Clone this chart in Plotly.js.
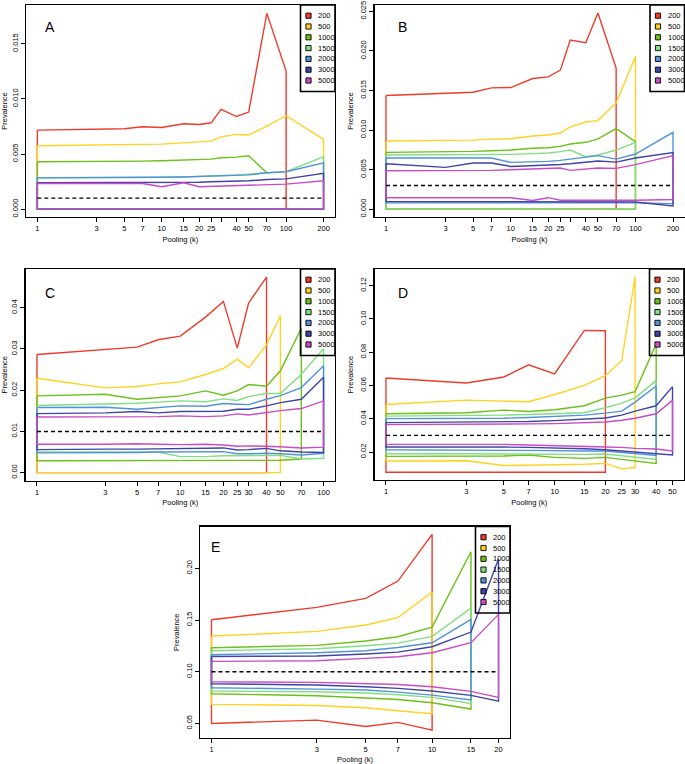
<!DOCTYPE html>
<html>
<head>
<meta charset="utf-8">
<script src="https://cdn.plot.ly/plotly-3.0.1.min.js"></script>
<style>html,body{margin:0;padding:0;background:#fff;}#chart{width:685px;height:764px;}</style>
</head>
<body>
<div id="chart"></div>
<script>
// ---------------- DATA ----------------
const seriesNames = ['200', '500', '1000', '1500', '2000', '3000', '5000'];
const seriesColors = ['#EE3B2B', '#FFD21F', '#6CC01A', '#82DE82', '#4F94DA', '#3F44A8', '#C94BC6'];

// Panel A
const kA = [1, 3, 5, 7, 10, 15, 20, 25, 30, 40, 50, 70, 100, 200];
const kA_labels = ['1', '3', '5', '7', '10', '15', '20', '25', '', '40', '50', '70', '100', '200'];
const A200_up = [0.00717, 0.00726, 0.00729, 0.00747, 0.0074, 0.00774, 0.00768, 0.00783, 0.00905, 0.0084, 0.0088, 0.01775, 0.01252, null];
const A200_lo = [0, 0, 0, 0, 0, 0, 0, 0, 0, 0, 0, 0, 0, null];
const A500_up = [0.00575, 0.00578, 0.00581, 0.00587, 0.0059, 0.00602, 0.00605, 0.00617, 0.00656, 0.00678, 0.00672, 0.00753, 0.00847, 0.00632];
const A500_lo = [0, 0, 0, 0, 0, 0, 0, 0, 0, 0, 0, 0, 0, 0];
const A1000_up = [0.0043, 0.0043, 0.00433, 0.00436, 0.00439, 0.00448, 0.00448, 0.00454, 0.00466, 0.00472, 0.00484, 0.0033, null, null];
const A1000_lo = [0, 0, 0, 0, 0, 0, 0, 0, 0, 0, 0, null, null, null];
const A1500_up = [0.00285, 0.00285, 0.00286, 0.00287, 0.0029, 0.00293, 0.00296, 0.003, 0.00305, 0.0031, 0.00318, 0.0033, 0.0034, 0.00475];
const A1500_lo = [0, 0, 0, 0, 0, 0, 0, 0, 0, 0, 0, 0, 0, 0];
const A2000_up = [0.00284, 0.00284, 0.00285, 0.00286, 0.00289, 0.00292, 0.00295, 0.00299, 0.00302, 0.00306, 0.00311, 0.0033, 0.00339, 0.0042];
const A2000_lo = [0, 0, 0, 0, 0, 0, 0, 0, 0, 0, 0, 0, 0, 0];
const A3000_up = [0.00239, 0.00239, 0.00239, 0.0024, 0.0024, 0.00242, 0.00244, 0.00248, 0.0025, 0.00253, 0.00257, 0.00269, 0.00275, 0.00324];
const A3000_lo = [0, 0, 0, 0, 0, 0, 0, 0, 0, 0, 0, 0, 0, 0];
const A5000_up = [0.00233, 0.00233, 0.00233, 0.00233, 0.00203, 0.00239, 0.00203, 0.00206, 0.00208, 0.0021, 0.00212, 0.00221, 0.00227, 0.00257];
const A5000_lo = [0, 0, 0, 0, 0, 0, 0, 0, 0, 0, 0, 0, 0, 0];
const A_ref = 0.001;

// Panel B
const kB = [1, 3, 5, 7, 10, 15, 20, 25, 30, 40, 50, 70, 100, 200];
const kB_labels = ['1', '3', '5', '7', '10', '15', '20', '25', '', '40', '50', '70', '100', '200'];
const B200_up = [0.01436, 0.0147, 0.01478, 0.01533, 0.01537, 0.01651, 0.01672, 0.01757, 0.02137, 0.02103, 0.02479, 0.01782, null, null];
const B200_lo = [0, 0, 0, 0, 0, 0, 0, 0, 0, 0, 0, 0, null, null];
const B500_up = [0.00861, 0.00866, 0.00872, 0.00885, 0.0089, 0.00925, 0.00937, 0.00963, 0.01039, 0.01102, 0.01119, 0.01343, 0.0193, null];
const B500_lo = [0, 0, 0, 0, 0, 0, 0, 0, 0, 0, 0, 0, 0, null];
const B1000_up = [0.00718, 0.00722, 0.0073, 0.00738, 0.00747, 0.00769, 0.00777, 0.00794, 0.00823, 0.00845, 0.00887, 0.01018, 0.00853, null];
const B1000_lo = [0, 0, 0, 0, 0, 0, 0, 0, 0, 0, 0, 0, 0, null];
const B1500_up = [0.00684, 0.00684, 0.00684, 0.00688, 0.00693, 0.00702, 0.0071, 0.00727, 0.00747, 0.00663, 0.00684, 0.00747, 0.00845, null];
const B1500_lo = [0, 0, 0, 0, 0, 0, 0, 0, 0, 0, 0, 0, 0, null];
const B2000_up = [0.00646, 0.00646, 0.00646, 0.00646, 0.00591, 0.00596, 0.00604, 0.00617, 0.00634, 0.00655, 0.00676, 0.00633, 0.00697, 0.00971];
const B2000_lo = [0.0008, 0.0008, 0.0008, 0.0008, 0.0008, 0.0008, 0.0008, 0.0008, 0.0008, 0.0008, 0.0008, 0.0008, 0.0008, 0.0007];
const B3000_up = [0.00574, 0.00528, 0.00583, 0.00583, 0.0054, 0.00548, 0.00557, 0.00565, 0.00574, 0.00591, 0.00608, 0.00595, 0.00646, 0.00714];
const B3000_lo = [0.00097, 0.00097, 0.00097, 0.00097, 0.00097, 0.00097, 0.00097, 0.00097, 0.0009, 0.0009, 0.0009, 0.0009, 0.0009, 0.0004];
const B5000_up = [0.00486, 0.00486, 0.00486, 0.0049, 0.00498, 0.00504, 0.00511, 0.0052, 0.0049, 0.00507, 0.0052, 0.00515, 0.00562, 0.00676];
const B5000_lo = [0.00145, 0.00145, 0.00145, 0.00145, 0.00145, 0.0011, 0.00145, 0.00112, 0.00112, 0.00112, 0.00112, 0.00112, 0.00112, 0.00122];
const B_ref = 0.003;

// Panel C
const kC = [1, 3, 5, 7, 10, 15, 20, 25, 30, 40, 50, 70, 100];
const kC_labels = ['1', '3', '5', '7', '10', '15', '20', '25', '30', '40', '50', '70', '100'];
const C200_up = [0.02866, 0.0298, 0.03045, 0.03223, 0.03312, 0.03773, 0.04154, 0.0302, 0.04113, 0.04745, null, null, null];
const C200_lo = [0, 0, 0, 0, 0, 0, 0, 0, 0, 0, null, null, null];
const C500_up = [0.02291, 0.02057, 0.02089, 0.02154, 0.02202, 0.0238, 0.02526, 0.02753, 0.02543, 0.03101, 0.03806, null, null];
const C500_lo = [0, 0, 0, 0, 0, 0, 0, 0, 0, 0, 0, null, null];
const C1000_up = [0.01862, 0.01903, 0.01781, 0.0182, 0.01862, 0.01984, 0.01879, 0.01984, 0.02138, 0.02097, 0.0247, 0.03506, null];
const C1000_lo = [0.0029, 0.0029, 0.0029, 0.0029, 0.0029, 0.003, 0.003, 0.003, 0.003, 0.003, 0.003, 0.0033, null];
const C1500_up = [0.01628, 0.01655, 0.01684, 0.0171, 0.01741, 0.0172, 0.01789, 0.0175, 0.01846, 0.01919, 0.01919, 0.02389, 0.03004];
const C1500_lo = [0.00505, 0.00503, 0.005, 0.005, 0.0039, 0.0039, 0.0041, 0.0041, 0.0041, 0.0042, 0.0042, 0.0033, 0.0035];
const C2000_up = [0.01579, 0.01585, 0.01538, 0.0157, 0.0162, 0.0161, 0.01676, 0.0166, 0.0165, 0.01781, 0.0187, 0.02065, 0.02591];
const C2000_lo = [0.0048, 0.0049, 0.0049, 0.005, 0.005, 0.0051, 0.0051, 0.0046, 0.0046, 0.0047, 0.0046, 0.0043, 0.0047];
const C3000_up = [0.01433, 0.0145, 0.01482, 0.0145, 0.01482, 0.01482, 0.0149, 0.01538, 0.01538, 0.0162, 0.017, 0.01781, 0.02316];
const C3000_lo = [0.0056, 0.0057, 0.0057, 0.0058, 0.0058, 0.0059, 0.006, 0.0055, 0.0056, 0.0059, 0.0053, 0.005, 0.0049];
const C5000_up = [0.01352, 0.01355, 0.0136, 0.0136, 0.01377, 0.0136, 0.01377, 0.01425, 0.014, 0.01466, 0.01506, 0.01555, 0.01741];
const C5000_lo = [0.0069, 0.0069, 0.007, 0.0069, 0.0068, 0.0069, 0.0067, 0.0064, 0.0065, 0.0064, 0.0063, 0.006, 0.0062];
const C_ref = 0.01;

// Panel D
const kD = [1, 3, 5, 7, 10, 15, 20, 25, 30, 40, 50];
const kD_labels = ['1', '3', '5', '7', '10', '15', '20', '25', '30', '40', '50'];
const D200_up = [0.0645, 0.0615, 0.0651, 0.0724, 0.0669, 0.0931, 0.0929, null, null, null, null];
const D200_lo = [0.0079, 0.0079, 0.0079, 0.0079, 0.0079, 0.0079, 0.0079, null, null, null, null];
const D500_up = [0.0486, 0.0512, 0.0506, 0.0502, 0.0546, 0.0601, 0.0659, 0.075, 0.1253, null, null];
const D500_lo = [0.0146, 0.0148, 0.0119, 0.0121, 0.0123, 0.0127, 0.0132, 0.0099, 0.0107, null, null];
const D1000_up = [0.043, 0.0436, 0.0452, 0.0444, 0.0454, 0.0478, 0.0524, 0.0542, 0.0563, 0.0849, null];
const D1000_lo = [0.0174, 0.0174, 0.0176, 0.0182, 0.0168, 0.0162, 0.0168, 0.0156, 0.0144, 0.0132, null];
const D1500_up = [0.0416, 0.0418, 0.0422, 0.0426, 0.0432, 0.0436, 0.0466, 0.0494, 0.0526, 0.0629, null];
const D1500_lo = [0.019, 0.019, 0.019, 0.019, 0.0188, 0.0186, 0.0188, 0.0178, 0.017, 0.0156, null];
const D2000_up = [0.0401, 0.0402, 0.0403, 0.0408, 0.0416, 0.0422, 0.0434, 0.0446, 0.05, 0.0597, null];
const D2000_lo = [0.0214, 0.0212, 0.021, 0.021, 0.021, 0.0206, 0.0206, 0.0198, 0.019, 0.018, null];
const D3000_up = [0.0377, 0.0379, 0.0381, 0.0384, 0.0389, 0.0397, 0.0405, 0.0422, 0.0446, 0.0478, 0.0593];
const D3000_lo = [0.023, 0.023, 0.023, 0.0228, 0.0226, 0.022, 0.0214, 0.021, 0.02, 0.019, 0.0182];
const D5000_up = [0.0365, 0.0365, 0.0367, 0.0369, 0.0371, 0.0375, 0.0381, 0.0391, 0.0403, 0.043, 0.0512];
const D5000_lo = [0.0246, 0.0246, 0.0246, 0.0243, 0.024, 0.0234, 0.023, 0.0228, 0.0222, 0.0218, 0.0206];
const D_ref = 0.03;

// Panel E
const kE = [1, 3, 5, 7, 10, 15, 20];
const kE_labels = ['1', '3', '5', '7', '10', '15', '20'];
const E200_up = [0.1503, 0.1623, 0.171, 0.1877, 0.2329, null, null];
const E200_lo = [0.05, 0.0532, 0.0471, 0.051, 0.0435, null, null];
const E500_up = [0.1345, 0.139, 0.1452, 0.1523, 0.1771, null, null];
const E500_lo = [0.0684, 0.0674, 0.0652, 0.0623, 0.0594, null, null];
const E1000_up = [0.1232, 0.1255, 0.1297, 0.1339, 0.1432, 0.2161, null];
const E1000_lo = [0.0787, 0.0768, 0.0748, 0.0732, 0.07, 0.0639, null];
const E1500_up = [0.1203, 0.1223, 0.1252, 0.1277, 0.1342, 0.1616, null];
const E1500_lo = [0.0813, 0.0806, 0.0794, 0.0777, 0.0752, 0.0694, null];
const E2000_up = [0.1165, 0.1184, 0.1203, 0.1235, 0.128, 0.1506, null];
const E2000_lo = [0.0845, 0.0832, 0.0823, 0.0803, 0.0774, 0.0726, null];
const E3000_up = [0.1148, 0.1152, 0.1171, 0.119, 0.1242, 0.1384, 0.209];
const E3000_lo = [0.0884, 0.0871, 0.0855, 0.0839, 0.0813, 0.0771, 0.0716];
const E5000_up = [0.11, 0.1106, 0.1129, 0.1145, 0.1184, 0.1281, 0.1555];
const E5000_lo = [0.0903, 0.0897, 0.0887, 0.0877, 0.0855, 0.081, 0.0752];
const E_ref = 0.10;

// ---------------- LAYOUT ----------------
const W = 685, H = 764;
const FONT = 'Liberation Sans, Arial, Helvetica, sans-serif';
const panels = [
  {letter: 'A', k: kA, kl: kA_labels, ups: [A200_up, A500_up, A1000_up, A1500_up, A2000_up, A3000_up, A5000_up],
   los: [A200_lo, A500_lo, A1000_lo, A1500_lo, A2000_lo, A3000_lo, A5000_lo], ref: A_ref,
   px: [25.9, 335], py: [5, 217], xr: [-0.092, 2.393], yr: [-0.00071, 0.01851],
   yt: [0, 0.005, 0.01, 0.015], yfmt: '.3f', lab: [50, 27]},
  {letter: 'B', k: kB, kl: kB_labels, ups: [B200_up, B500_up, B1000_up, B1500_up, B2000_up, B3000_up, B5000_up],
   los: [B200_lo, B500_lo, B1000_lo, B1500_lo, B2000_lo, B3000_lo, B5000_lo], ref: B_ref,
   px: [374.5, 684.5], py: [5, 217], xr: [-0.092, 2.393], yr: [-0.00099, 0.0258],
   yt: [0, 0.005, 0.01, 0.015, 0.02, 0.025], yfmt: '.3f', lab: [402, 27]},
  {letter: 'C', k: kC, kl: kC_labels, ups: [C200_up, C500_up, C1000_up, C1500_up, C2000_up, C3000_up, C5000_up],
   los: [C200_lo, C500_lo, C1000_lo, C1500_lo, C2000_lo, C3000_lo, C5000_lo], ref: C_ref,
   px: [25.5, 335], py: [269, 480.5], xr: [-0.08, 2.08], yr: [-0.0019, 0.0494],
   yt: [0, 0.01, 0.02, 0.03, 0.04], yfmt: '.2f', lab: [49.5, 293]},
  {letter: 'D', k: kD, kl: kD_labels, ups: [D200_up, D500_up, D1000_up, D1500_up, D2000_up, D3000_up, D5000_up],
   los: [D200_lo, D500_lo, D1000_lo, D1500_lo, D2000_lo, D3000_lo, D5000_lo], ref: D_ref,
   px: [374.5, 684], py: [269, 480], xr: [-0.068, 1.767], yr: [0.0032, 0.13],
   yt: [0.02, 0.04, 0.06, 0.08, 0.10, 0.12], yfmt: '.2f', lab: [402.5, 293]},
  {letter: 'E', k: kE, kl: kE_labels, ups: [E200_up, E500_up, E1000_up, E1500_up, E2000_up, E3000_up, E5000_up],
   los: [E200_lo, E500_lo, E1000_lo, E1500_lo, E2000_lo, E3000_lo, E5000_lo], ref: E_ref,
   px: [200, 510], py: [526.5, 738], xr: [-0.052, 1.353], yr: [0.0359, 0.2405],
   yt: [0.05, 0.10, 0.15, 0.20], yfmt: '.2f', lab: [215, 546.5]}
];

const fx = v => v / W;
const fy = v => 1 - v / H;

const traces = [];
const layout = {
  width: W, height: H,
  margin: {l: 0, r: 0, t: 0, b: 0},
  paper_bgcolor: '#fff', plot_bgcolor: 'rgba(0,0,0,0)',
  showlegend: false,
  font: {family: FONT, size: 7.5, color: '#000'},
  annotations: [], shapes: []
};

panels.forEach((p, i) => {
  const n = i + 1;
  const xa = n === 1 ? 'x' : 'x' + n;
  const ya = n === 1 ? 'y' : 'y' + n;
  const xk = n === 1 ? 'xaxis' : 'xaxis' + n;
  const yk = n === 1 ? 'yaxis' : 'yaxis' + n;

  // closed loops: upper bound out, lower bound back
  p.ups.forEach((up, s) => {
    const lo = p.los[s];
    const xs = [], ys = [];
    let last = -1;
    for (let j = 0; j < p.k.length; j++) {
      if (up[j] !== null) { xs.push(p.k[j]); ys.push(up[j]); last = j; }
    }
    for (let j = last; j >= 0; j--) { xs.push(p.k[j]); ys.push(lo[j]); }
    xs.push(p.k[0]); ys.push(up[0]);
    traces.push({
      type: 'scatter', mode: 'lines', x: xs, y: ys, xaxis: xa, yaxis: ya,
      name: seriesNames[s], connectgaps: false, hoverinfo: 'skip',
      line: {color: seriesColors[s], width: 1.4}
    });
  });
  // reference line
  traces.push({
    type: 'scatter', mode: 'lines', x: [p.k[0], p.k[p.k.length - 1]], y: [p.ref, p.ref],
    xaxis: xa, yaxis: ya, hoverinfo: 'skip', name: 'ref',
    line: {color: '#000', width: 1.4, dash: '4px,3px'}
  });

  layout[xk] = {
    type: 'log', domain: [fx(p.px[0]), fx(p.px[1])], anchor: ya, range: p.xr,
    tickmode: 'array', tickvals: p.k, ticktext: p.kl,
    showline: true, mirror: true, linecolor: '#000', linewidth: 1.3,
    ticks: 'outside', ticklen: 4, tickwidth: 1, tickcolor: '#000',
    showgrid: false, zeroline: false, tickangle: 0,
    tickfont: {family: FONT, size: 7.5, color: '#000'},
    title: {text: 'Pooling (k)', font: {family: FONT, size: 7.5, color: '#000'}, standoff: 4}
  };
  layout[yk] = {
    domain: [fy(p.py[1]), fy(p.py[0])], anchor: xa, range: p.yr,
    tickmode: 'array', tickvals: p.yt, tickformat: p.yfmt,
    showline: true, mirror: true, linecolor: '#000', linewidth: 1.3,
    ticks: 'outside', ticklen: 4, tickwidth: 1, tickcolor: '#000',
    showgrid: false, zeroline: false, tickangle: -90,
    tickfont: {family: FONT, size: 7.5, color: '#000'},
    title: {text: 'Prevalence', font: {family: FONT, size: 7.5, color: '#000'}, standoff: 4}
  };

  // panel letter
  layout.annotations.push({
    xref: 'paper', yref: 'paper', x: fx(p.lab[0]), y: fy(p.lab[1]),
    text: p.letter, showarrow: false, xanchor: 'center', yanchor: 'middle',
    font: {family: FONT, size: 14, color: '#000'}
  });

  // legend (transparent box, black border)
  const R = p.px[1], T = p.py[0];
  const L = R - 34.5, B = T + 86.5;
  layout.shapes.push({type: 'rect', xref: 'paper', yref: 'paper', layer: 'above',
    x0: fx(L), x1: fx(R), y0: fy(B), y1: fy(T), line: {color: '#000', width: 1.6}, fillcolor: 'rgba(0,0,0,0)'});
  seriesNames.forEach((nm, s) => {
    const cy = T + 10.7 + s * 10.8;
    const cx = L + 8;
    layout.shapes.push({type: 'rect', xref: 'paper', yref: 'paper', layer: 'above',
      x0: fx(cx - 2.6), x1: fx(cx + 2.6), y0: fy(cy + 2.6), y1: fy(cy - 2.6),
      line: {color: '#000', width: 0.9}, fillcolor: seriesColors[s]});
    layout.annotations.push({xref: 'paper', yref: 'paper', x: fx(L + 15.5), y: fy(cy),
      text: nm, showarrow: false, xanchor: 'left', yanchor: 'middle',
      font: {family: FONT, size: 7.5, color: '#000'}});
  });
});

Plotly.newPlot('chart', traces, layout, {staticPlot: true, displayModeBar: false});
</script>
</body>
</html>
